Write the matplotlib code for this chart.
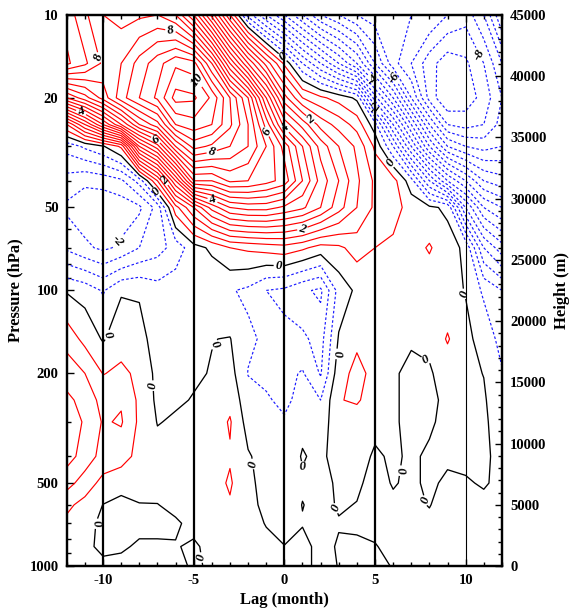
import numpy as np
import matplotlib
matplotlib.use("Agg")
import matplotlib.pyplot as plt
from matplotlib.ticker import FixedLocator, MultipleLocator
from matplotlib.font_manager import FontProperties

# ---------------- data ----------------
lags = list(range(-12, 13))
pressure_levels = [1000, 850, 700, 600, 500, 400, 300, 250, 200, 150, 100, 70, 50, 40, 30, 25, 20, 15, 10]

p10 = [8.8, 8.1, 7.5, 7.3, 7.4, 7.5, 7.0, 5.5, 3.3, 1.0, -1.2, -2.5, -3.5, -4.5, -5.5, -6.0, -6.5, -6.8, -6.8, -7.0, -7.0, -7.5, -7.8, -7.0, -5.5]
p15 = [9.1, 8.6, 7.9, 8.0, 8.7, 9.3, 9.9, 9.7, 8.0, 5.5, 3.5, 1.8, 0.4, -1.0, -2.0, -3.0, -4.0, -5.5, -6.8, -7.5, -8.3, -8.8, -8.6, -8.0, -7.0]
p20 = [5.5, 6.3, 7.2, 8.3, 9.0, 9.6, 10.7, 10.6, 9.9, 8.5, 7.0, 4.5, 2.2, 1.0, 0.6, 0.3, -0.1, -2.8, -4.5, -6.5, -8.2, -9.0, -8.8, -8.3, -7.5]
p25 = [1.0, 2.5, 4.0, 5.5, 7.0, 7.8, 9.5, 9.8, 9.5, 8.6, 7.5, 5.8, 3.8, 2.8, 1.8, 1.3, 0.8, -0.3, -2.5, -4.5, -6.5, -8.0, -8.2, -8.0, -7.3]
p30 = [-0.8, -0.4, -0.05, 0.6, 4.0, 5.3, 7.5, 8.7, 8.4, 8.0, 7.5, 6.5, 5.3, 4.0, 2.8, 2.0, 1.4, 0.4, -1.0, -3.0, -5.0, -6.5, -7.0, -7.2, -7.0]
p40 = [-1.7, -1.9, -1.8, -1.6, -0.8, 1.0, 3.5, 6.0, 6.0, 6.6, 6.5, 6.2, 5.8, 4.5, 3.3, 2.5, 1.6, 0.9, 0.7, -0.3, -2.0, -3.5, -4.5, -5.5, -5.8]
p50 = [-2.1, -2.3, -2.4, -2.3, -2.1, -1.3, 0.8, 2.0, 3.2, 4.0, 4.2, 4.2, 3.9, 3.6, 3.0, 2.2, 1.5, 0.9, 0.7, 0.3, 0.1, -0.1, -2.5, -4.0, -4.5]
p70 = [-1.6, -1.9, -2.1, -1.9, -1.5, -1.2, -0.8, -0.2, 0.1, 0.5, 0.6, 0.7, 0.8, 0.6, 0.3, 0.4, 0.7, 0.5, 0.4, 0.3, 0.55, 0.2, -0.1, -2.0, -2.8]
p100 = [-0.05, -0.2, -0.55, -0.05, -0.05, -0.3, -0.2, -0.3, -0.4, -0.45, -0.6, -1.0, -1.1, -1.4, -1.6, -0.3, 0.1, 0.2, 0.2, 0.15, 0.2, 0.15, -0.02, -0.6, -1.0]
p150 = [0.8, 0.35, -0.05, 0.3, 0.15, -0.2, -0.15, -0.15, -0.01, 0.02, -0.4, -0.6, -0.9, -0.9, -1.2, 0.05, 0.4, 0.2, 0.15, 0.05, 0.1, 0.55, 0.1, -0.15, -0.7]
p200 = [1.3, 1.0, 0.48, 0.6, 0.4, -0.15, -0.1, -0.05, 0.02, 0.2, -0.52, -0.6, -0.65, -0.45, -1.05, 0.3, 0.65, 0.35, 0.05, -0.1, -0.05, 0.2, 0.1, -0.01, -0.45]
p250 = [1.6, 1.35, 0.8, 0.95, 0.4, -0.1, -0.05, 0.02, 0.1, 0.35, -0.3, -0.45, -0.6, -0.35, -0.5, 0.48, 0.55, 0.3, 0.05, -0.1, -0.1, 0.1, 0.1, 0.05, -0.3]
p300 = [1.75, 1.45, 0.95, 1.05, 0.4, -0.02, 0.05, 0.15, 0.2, 0.55, -0.2, -0.35, -0.45, -0.1, -0.2, 0.25, 0.3, 0.1, 0.05, -0.1, -0.05, 0.1, 0.1, 0.05, -0.15]
p400 = [1.7, 1.3, 0.8, 0.7, 0.35, 0.15, 0.15, 0.25, 0.3, 0.45, 0.05, -0.2, -0.25, 0.03, -0.1, 0.2, 0.15, -0.05, 0.05, -0.05, 0.05, 0.05, 0.05, 0.03, -0.05]
p500 = [1.2, 0.75, 0.35, 0.2, 0.2, 0.15, 0.2, 0.25, 0.3, 0.56, 0.1, -0.15, -0.2, -0.05, -0.1, 0.05, 0.05, -0.1, 0.02, -0.05, 0.05, -0.05, -0.02, 0.02, -0.05]
p600 = [0.6, 0.35, -0.01, -0.15, -0.02, -0.01, 0.1, 0.2, 0.3, 0.45, 0.12, -0.1, -0.2, 0.01, -0.1, 0.03, -0.01, -0.1, -0.05, -0.05, 0.01, -0.1, -0.1, -0.05, -0.1]
p700 = [0.4, 0.15, -0.1, -0.2, -0.1, -0.1, -0.05, 0.1, 0.2, 0.35, 0.15, -0.02, -0.15, -0.02, -0.1, -0.02, -0.05, -0.1, -0.1, -0.1, -0.05, -0.1, -0.1, -0.1, -0.1]
p850 = [0.2, 0.1, -0.1, -0.05, 0.05, 0.05, 0.02, -0.05, 0.1, 0.2, 0.15, 0.1, 0.01, 0.1, -0.1, 0.03, 0.05, 0.02, -0.1, -0.1, -0.1, -0.1, -0.1, -0.1, -0.1]
p1000 = [0.15, 0.1, 0.1, 0.1, 0.1, 0.1, 0.1, -0.05, 0.05, 0.15, 0.15, 0.15, 0.1, 0.1, -0.1, 0.01, 0.05, 0.05, -0.01, -0.1, -0.1, -0.1, -0.1, -0.1, -0.05]

x_ticks = [-10, -5, 0, 5, 10]
p_ticks = [10, 20, 50, 100, 200, 500, 1000]
height_ticks = [0, 5000, 10000, 15000, 20000, 25000, 30000, 35000, 40000, 45000]
guide_lags = [-10, -5, 0, 5, 10]

# contour labels: value -> (lag, hPa) positions
label_spots = {
    10: [(-5.1, 17.7)],
    8: [(-10.3, 14.3), (-6.4, 12.6), (-4.0, 31.5)],
    6: [(-7.1, 28.5), (-1.2, 27.0)],
    4: [(-11.2, 22.5), (-3.9, 46.0), (0.0, 26.0)],
    2: [(-6.6, 40.0), (1.5, 23.6), (1.0, 60.0)],
    0: [(0.0, 14.0), (-7.1, 44.0), (-0.3, 82.0), (5.9, 34.3), (9.9, 103.0),
        (-10.0, 143.0), (-7.5, 222.0), (-3.95, 156.0), (-1.6, 425.0),
        (-10.6, 700.0), (-4.5, 930.0), (2.9, 170.0), (2.9, 615.0),
        (6.4, 451.0), (7.9, 175.0), (7.7, 580.0), (1.0, 450.0)],
    -2: [(-9.4, 64.6), (5.0, 21.8)],
    -4: [(5.0, 17.0)],
    -6: [(6.2, 16.7)],
    -8: [(10.1, 14.6)],
}

# ---------------- plot ----------------
rows = [p1000, p850, p700, p600, p500, p400, p300, p250, p200, p150,
        p100, p70, p50, p40, p30, p25, p20, p15, p10]
Z = np.array(rows, dtype=float)
X = np.array(lags, dtype=float)
Y = np.log10(np.array(pressure_levels, dtype=float))

serif = ['Liberation Serif', 'DejaVu Serif']
plt.rcParams['font.family'] = serif
plt.rcParams['axes.unicode_minus'] = False

fig = plt.figure(figsize=(5.71, 6.09), dpi=100)
ax = fig.add_axes([0.117, 0.0706, 0.762, 0.905])

all_levels = np.round(np.arange(-10.0, 11.25, 0.5), 2)
labelled = set(label_spots.keys())

RED = '#ff0000'
BLUE = '#1a1aff'
DASH = (0, (2.2, 1.8))


def style(v):
    if v > 0:
        return dict(colors=RED, linewidths=0.85, linestyles='solid')
    if v < 0:
        return dict(colors=BLUE, linewidths=0.85, linestyles=[DASH])
    return dict(colors='black', linewidths=0.95, linestyles='solid')

plain_pos = [v for v in all_levels if v > 0 and v not in labelled]
plain_neg = [v for v in all_levels if v < 0 and v not in labelled]
ax.contour(X, Y, Z, levels=plain_pos, **style(1))
ax.contour(X, Y, Z, levels=plain_neg, **style(-1))

lab_fp = FontProperties(family=serif, weight='bold', style='italic', size=9.5)

for v, spots in label_spots.items():
    cs = ax.contour(X, Y, Z, levels=[float(v)], **style(v))
    pts = [(a, np.log10(b)) for a, b in spots]
    try:
        ax.clabel(cs, manual=pts, fmt=lambda val: f'{val:g}', inline=True,
                  inline_spacing=2, fontsize=9.5, colors='black')
    except Exception:
        pass

for t in ax.texts:
    t.set_fontproperties(lab_fp)
    t.set_color('black')

for g in guide_lags:
    ax.axvline(g, color='black', lw=1.6 if g != 10 else 0.8, zorder=3)

ax.set_xlim(-12, 12)
ax.set_ylim(3, 1)
ax.xaxis.set_major_locator(FixedLocator(x_ticks))
ax.xaxis.set_minor_locator(MultipleLocator(1))
ax.set_yticks(np.log10(p_ticks))
ax.set_yticklabels([str(p) for p in p_ticks])
minor_p = [30, 40, 60, 70, 80, 90, 300, 400, 600, 700, 800, 900]
ax.yaxis.set_minor_locator(FixedLocator(np.log10(minor_p)))
ax.tick_params(which='both', direction='in', top=True, right=False, width=1.0)
ax.tick_params(which='major', length=5, labelsize=10.5, pad=6)
ax.tick_params(which='minor', length=3)
for lab in ax.get_xticklabels() + ax.get_yticklabels():
    lab.set_fontweight('bold')

for s in ax.spines.values():
    s.set_linewidth(1.6)

ax.set_xlabel('Lag (month)', fontsize=12, fontweight='bold', labelpad=3)
ax.set_ylabel('Pressure (hPa)', fontsize=12, fontweight='bold', labelpad=4)

ax2 = ax.twinx()
ax2.set_ylim(0, 45000)
ax2.set_yticks(height_ticks)
ax2.yaxis.set_minor_locator(MultipleLocator(1000))
ax2.tick_params(which='both', direction='in', width=1.0)
ax2.tick_params(which='major', length=5, labelsize=10.5, pad=6)
ax2.tick_params(which='minor', length=3)
for lab in ax2.get_yticklabels():
    lab.set_fontweight('bold')
ax2.set_ylabel('Height (m)', fontsize=12, fontweight='bold', labelpad=5)
for s in ax2.spines.values():
    s.set_linewidth(1.6)

fig.savefig('out.png', dpi=100)
